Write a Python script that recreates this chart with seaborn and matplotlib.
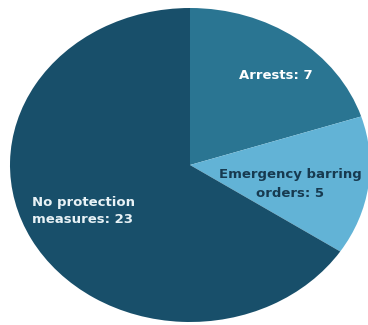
import matplotlib
matplotlib.use("Agg")
import matplotlib.pyplot as plt
import seaborn as sns

categories = ["Arrests", "Emergency barring orders", "No protection measures"]
counts = [7, 5, 23]
label_texts = ["Arrests: 7", "Emergency barring\norders: 5", "No protection\nmeasures: 23"]

sns.set_style("white")
plt.rcParams["font.family"] = ["DejaVu Sans"]

colors = ["#2a7592", "#62b3d6", "#184f6a"]
text_colors = ["white", "#173a50", "#e8f2f6"]

fig = plt.figure(figsize=(3.68, 3.25), dpi=100)
ax = fig.add_axes([10 / 368, 3 / 325, 360 / 368, 314 / 325])
ax.pie(counts, colors=colors, startangle=90, counterclock=False,
       radius=1.0, wedgeprops=dict(linewidth=0))
ax.set_aspect("auto")
ax.set_xlim(-1, 1)
ax.set_ylim(-1, 1)
ax.axis("off")

positions = [(0.478, 0.573, "center"), (0.556, -0.121, "center"), (-0.875, -0.295, "left")]
spacings = [1.2, 1.55, 1.4]
for txt, (x, y, ha), c, ls in zip(label_texts, positions, text_colors, spacings):
    ax.text(x, y, txt, ha=ha, va="center", color=c, fontsize=9.5,
            fontweight="bold", linespacing=ls,
            multialignment="center" if ha == "center" else "left")

fig.savefig("out.png", dpi=100)
